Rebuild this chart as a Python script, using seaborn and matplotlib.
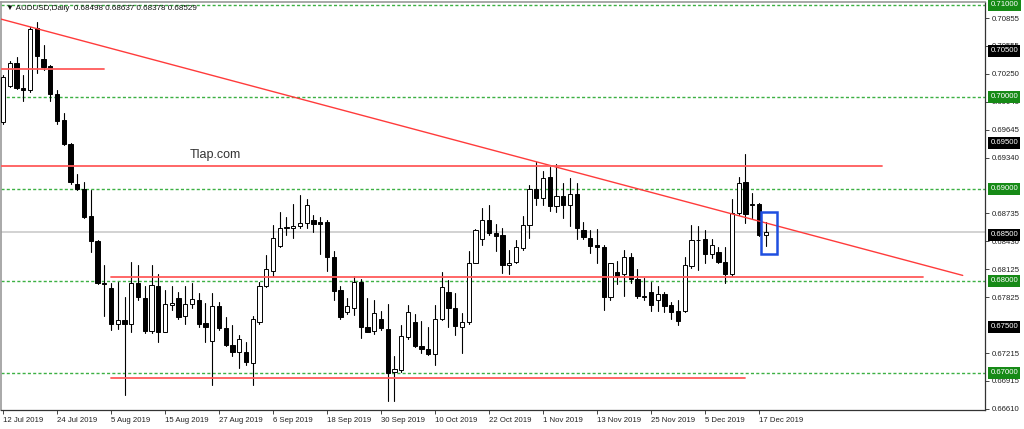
import numpy as np
import pandas as pd
import matplotlib
matplotlib.use("Agg")
import matplotlib.pyplot as plt
from matplotlib.patches import Rectangle
import seaborn as sns

# Velas diarias AUDUSD
abertura = [0.6973, 0.7012, 0.7037, 0.7010, 0.7007, 0.7075, 0.7041, 0.7034, 0.7003, 0.6975,
            0.6949, 0.6905, 0.6900, 0.6871, 0.6843, 0.6798, 0.6792, 0.6753, 0.6758, 0.6753,
            0.6798, 0.6781, 0.6746, 0.6795, 0.6745, 0.6774, 0.6781, 0.6762, 0.6775, 0.6779,
            0.6754, 0.6735, 0.6773, 0.6749, 0.6730, 0.6723, 0.6723, 0.6711, 0.6755, 0.6794,
            0.6811, 0.6838, 0.6858, 0.6857, 0.6860, 0.6863, 0.6866, 0.6864, 0.6864, 0.6826,
            0.6790, 0.6766, 0.6771, 0.6799, 0.6750, 0.6746, 0.6759, 0.6748, 0.6701, 0.6703,
            0.6739, 0.6755, 0.6729, 0.6726, 0.6721, 0.6759, 0.6788, 0.6771, 0.6750, 0.6755,
            0.6820, 0.6846, 0.6866, 0.6852, 0.6850, 0.6817, 0.6821, 0.6836, 0.6861, 0.6900,
            0.6890, 0.6913, 0.6881, 0.6892, 0.6882, 0.6895, 0.6855, 0.6847, 0.6839, 0.6837,
            0.6783, 0.6810, 0.6807, 0.6826, 0.6802, 0.6784, 0.6788, 0.6779, 0.6786, 0.6774,
            0.6767, 0.6767, 0.6816, 0.6844, 0.6846, 0.6829, 0.6831, 0.6821, 0.6807, 0.6874,
            0.6907, 0.6882, 0.6884, 0.68498]
maxima = [0.7024, 0.7039, 0.7043, 0.7024, 0.7076, 0.7081, 0.7057, 0.7035, 0.7008, 0.6983,
          0.6950, 0.6916, 0.6908, 0.6899, 0.6845, 0.6817, 0.6798, 0.6799, 0.6782, 0.6821,
          0.6817, 0.6795, 0.6817, 0.6807, 0.6790, 0.6795, 0.6788, 0.6795, 0.6798, 0.6787,
          0.6776, 0.6787, 0.6777, 0.6761, 0.6752, 0.6741, 0.6734, 0.6762, 0.6799, 0.6828,
          0.6861, 0.6875, 0.6869, 0.6884, 0.6893, 0.6889, 0.6872, 0.6870, 0.6866, 0.6832,
          0.6795, 0.6781, 0.6805, 0.6802, 0.6781, 0.6779, 0.6767, 0.6775, 0.6718, 0.6752,
          0.6774, 0.6764, 0.6756, 0.6750, 0.6774, 0.6810, 0.6801, 0.6787, 0.6765, 0.6832,
          0.6856, 0.6879, 0.6883, 0.6862, 0.6857, 0.6834, 0.6845, 0.6871, 0.6904, 0.6929,
          0.6920, 0.6924, 0.6927, 0.6906, 0.6912, 0.6906, 0.6864, 0.6855, 0.6856, 0.6839,
          0.6820, 0.6822, 0.6834, 0.6830, 0.6813, 0.6803, 0.6799, 0.6794, 0.6788, 0.6777,
          0.6779, 0.6826, 0.6861, 0.6860, 0.6855, 0.6846, 0.6837, 0.6837, 0.6889, 0.6913,
          0.6938, 0.6896, 0.6885, 0.68637]
minimas = [0.6971, 0.7011, 0.7009, 0.6996, 0.7005, 0.7026, 0.7029, 0.6996, 0.6971, 0.6948,
           0.6905, 0.6899, 0.6868, 0.6831, 0.6797, 0.6762, 0.6747, 0.6748, 0.6676, 0.6744,
           0.6779, 0.6743, 0.6743, 0.6734, 0.6744, 0.6768, 0.6759, 0.6753, 0.6771, 0.6750,
           0.6734, 0.6687, 0.6747, 0.6729, 0.6718, 0.6705, 0.6709, 0.6687, 0.6753, 0.6793,
           0.6805, 0.6837, 0.6850, 0.6847, 0.6858, 0.6857, 0.6853, 0.6829, 0.6811, 0.6779,
           0.6759, 0.6764, 0.6763, 0.6738, 0.6744, 0.6742, 0.6747, 0.6670, 0.6669, 0.6701,
           0.6737, 0.6728, 0.6722, 0.6720, 0.6709, 0.6758, 0.6750, 0.6741, 0.6722, 0.6753,
           0.6819, 0.6839, 0.6850, 0.6833, 0.6809, 0.6808, 0.6820, 0.6834, 0.6847, 0.6883,
           0.6883, 0.6876, 0.6875, 0.6868, 0.6860, 0.6846, 0.6846, 0.6830, 0.6820, 0.6768,
           0.6779, 0.6797, 0.6784, 0.6798, 0.6781, 0.6779, 0.6767, 0.6767, 0.6766, 0.6759,
           0.6752, 0.6766, 0.6814, 0.6812, 0.6820, 0.6825, 0.6819, 0.6798, 0.6805, 0.6872,
           0.6863, 0.6868, 0.6849, 0.68378]
fechamento = [0.7022, 0.7037, 0.7010, 0.7008, 0.7074, 0.7045, 0.7033, 0.7003, 0.6974, 0.6949,
              0.6907, 0.6900, 0.6870, 0.6843, 0.6798, 0.6797, 0.6753, 0.6758, 0.6753, 0.6798,
              0.6782, 0.6746, 0.6796, 0.6745, 0.6775, 0.6776, 0.6761, 0.6775, 0.6780, 0.6753,
              0.6750, 0.6773, 0.6749, 0.6730, 0.6723, 0.6737, 0.6712, 0.6759, 0.6795, 0.6813,
              0.6847, 0.6858, 0.6859, 0.6860, 0.6863, 0.6882, 0.6862, 0.6862, 0.6826, 0.6789,
              0.6761, 0.6773, 0.6799, 0.6750, 0.6745, 0.6765, 0.6749, 0.6700, 0.6704, 0.6740,
              0.6766, 0.6729, 0.6726, 0.6721, 0.6759, 0.6793, 0.6771, 0.6751, 0.6755, 0.6820,
              0.6855, 0.6866, 0.6852, 0.6849, 0.6817, 0.6820, 0.6837, 0.6861, 0.6900, 0.6890,
              0.6912, 0.6881, 0.6892, 0.6882, 0.6895, 0.6857, 0.6848, 0.6838, 0.6837, 0.6783,
              0.6819, 0.6805, 0.6826, 0.6802, 0.6784, 0.6783, 0.6774, 0.6786, 0.6773, 0.6766,
              0.6756, 0.6817, 0.6845, 0.6845, 0.6829, 0.6839, 0.6821, 0.6808, 0.6874, 0.6906,
              0.6873, 0.6884, 0.6850, 0.68529]

datas = ["12 Jul 2019", "24 Jul 2019", "5 Aug 2019", "15 Aug 2019", "27 Aug 2019",
         "6 Sep 2019", "18 Sep 2019", "30 Sep 2019", "10 Oct 2019", "22 Oct 2019",
         "1 Nov 2019", "13 Nov 2019", "25 Nov 2019", "5 Dec 2019", "17 Dec 2019"]
barras_por_rotulo = 8

# rotulos da escala (os que ficam totalmente cobertos pelas etiquetas ficam de fora)
precos_eixo = [0.70855, 0.70555, 0.70250, 0.69945, 0.69645, 0.69340, 0.68735,
               0.68430, 0.68125, 0.67825, 0.67215, 0.66915, 0.66610]
niveis_verdes = [0.71000, 0.70000, 0.69000, 0.68000, 0.67000]
niveis_pretos = [0.70500, 0.69500, 0.68500, 0.67500]
preco_atual = 0.68529

# linhas desenhadas no grafico: (barra inicial, barra final, preco inicial, preco final)
tendencia = (-0.5, 142.2, 0.7085, 0.6806)
horizontais = [(-0.5, 15.0, 0.7030, 0.7030),
               (-0.5, 130.2, 0.6925, 0.6925),
               (16.0, 136.3, 0.6804, 0.6804),
               (16.0, 110.0, 0.6695, 0.6695)]
caixa = (112.25, 114.7, 0.6829, 0.68753)

titulo = "AUDUSD,Daily  0.68498 0.68637 0.68378 0.68529"
marca = "Tlap.com"

sns.set_theme(style="white")
plt.rcParams['font.family'] = ['Liberation Sans', 'DejaVu Sans']

n = len(abertura)
barras = np.arange(n)
dados = pd.DataFrame({"barra": barras, "o": abertura, "h": maxima, "l": minimas, "c": fechamento})

fig = plt.figure(figsize=(10.24, 4.29), dpi=100)
ax = fig.add_axes([1/1024, 19/429, 984/1024, 408/429])
ax.set_facecolor("white")

# niveis redondos tracejados
for nv in niveis_verdes:
    ax.axhline(nv, color="#3cb043", lw=1.0, ls=(0, (2.2, 1.6)), zorder=1)
ax.axhline(preco_atual, color="#d2d2d2", lw=1.4, zorder=1)

# pavios
pavios = pd.DataFrame({"barra": np.concatenate([barras, barras]),
                       "preco": np.concatenate([dados["l"], dados["h"]])})
sns.lineplot(data=pavios, x="barra", y="preco", units="barra", estimator=None,
             color="black", lw=0.8, ax=ax, legend=False, sort=False, zorder=2)

# corpos
alta = dados["c"] >= dados["o"]
base = np.minimum(dados["o"], dados["c"])
altura = np.maximum(np.abs(dados["c"] - dados["o"]), 0.00002)
cores = np.where(alta, "white", "black")
ax.bar(dados["barra"], altura, bottom=base, width=0.62, color=cores,
       edgecolor="black", linewidth=0.7, zorder=3)

# linhas vermelhas
x0, x1, y0, y1 = tendencia
ax.plot([x0, x1], [y0, y1], color="#ff3b3b", lw=1.0, zorder=4)
for x0, x1, y0, y1 in horizontais:
    ax.plot([x0, x1], [y0, y1], color="#ff5a5a", lw=1.3, zorder=4)

cx0, cx1, cy0, cy1 = caixa
ax.add_patch(Rectangle((cx0, cy0), cx1 - cx0, cy1 - cy0, fill=False,
                       edgecolor="#1f4fe0", lw=1.8, zorder=5))

ax.set_xlim(-0.3, 145.5)
ax.set_ylim(0.66597, 0.71032)

# eixo de precos a direita
ax.yaxis.tick_right()
ax.set_yticks(precos_eixo)
ax.set_yticklabels([f"{p:.5f}" for p in precos_eixo])
ax.tick_params(axis="y", which="both", right=True, left=False, length=3, width=0.7,
               color="#444444", labelsize=5.6, labelcolor="#222222", pad=2)

posicoes = np.arange(len(datas)) * barras_por_rotulo
ax.set_xticks(posicoes)
ax.set_xticklabels(datas, ha="left")
ax.tick_params(axis="x", bottom=True, length=3, width=0.7, color="#444444",
               labelsize=5.6, labelcolor="#222222", pad=2)
ax.set_xlabel("")
ax.set_ylabel("")

tr = ax.get_yaxis_transform()
for nv in niveis_verdes:
    ax.text(1.0055, nv, f"{nv:.5f}", transform=tr, ha="left", va="center", fontsize=5.6,
            color="white", clip_on=False, zorder=6,
            bbox=dict(boxstyle="square,pad=0.3", facecolor="#168a16", edgecolor="none"))
for nv in niveis_pretos:
    ax.text(1.0055, nv, f"{nv:.5f}", transform=tr, ha="left", va="center", fontsize=5.6,
            color="white", clip_on=False, zorder=6,
            bbox=dict(boxstyle="square,pad=0.3", facecolor="black", edgecolor="none"))

for lado in ["left", "top"]:
    ax.spines[lado].set_color("#9a9a9a")
    ax.spines[lado].set_linewidth(1.2)
for lado in ["right", "bottom"]:
    ax.spines[lado].set_color("#333333")
    ax.spines[lado].set_linewidth(0.9)

ax.text(0.005, 0.985, "\u25bc " + titulo, transform=ax.transAxes, ha="left", va="center",
        fontsize=5.8, color="#111111")
ax.text(0.192, 0.625, marca, transform=ax.transAxes, ha="left", va="center",
        fontsize=9, color="#333333")

fig.savefig("out.png", dpi=100)
